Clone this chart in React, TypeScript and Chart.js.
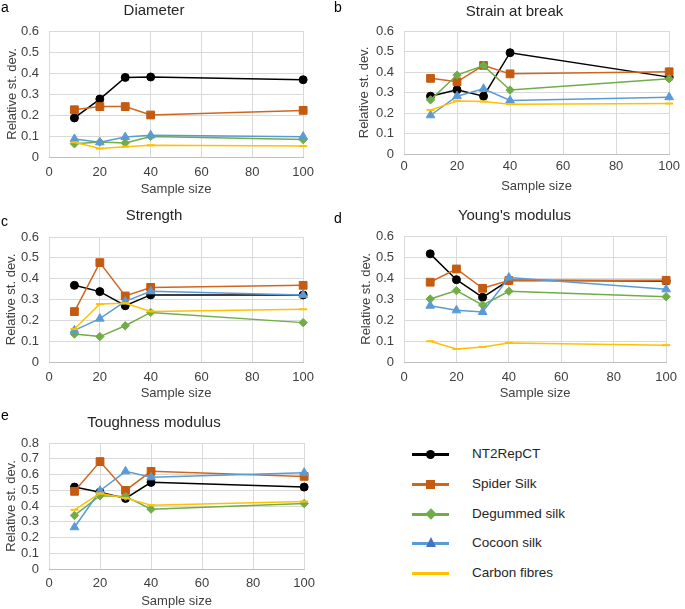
import React, { useEffect, useRef } from "react";
import { Chart, registerables } from "chart.js";

Chart.register(...registerables);

// ---------- data ----------
const sampleSizes = [10, 20, 30, 40, 100];
const seriesNames = ["NT2RepCT", "Spider Silk", "Degummed silk", "Cocoon silk", "Carbon fibres"];
const xTicks = [0, 20, 40, 60, 80, 100];

const diameterNT2 = [0.186, 0.276, 0.379, 0.381, 0.368];
const diameterSpider = [0.225, 0.24, 0.24, 0.2, 0.222];
const diameterDegummed = [0.063, 0.071, 0.067, 0.098, 0.083];
const diameterCocoon = [0.086, 0.07, 0.095, 0.103, 0.097];
const diameterCarbon = [0.07, 0.04, 0.049, 0.056, 0.052];

const strainNT2 = [0.282, 0.313, 0.282, 0.494, 0.375];
const strainSpider = [0.369, 0.352, 0.432, 0.391, 0.401];
const strainDegummed = [0.264, 0.385, 0.431, 0.312, 0.367];
const strainCocoon = [0.189, 0.282, 0.318, 0.261, 0.277];
const strainCarbon = [0.214, 0.258, 0.256, 0.243, 0.246];

const strengthNT2 = [0.368, 0.338, 0.27, 0.322, 0.322];
const strengthSpider = [0.242, 0.477, 0.317, 0.358, 0.368];
const strengthDegummed = [0.134, 0.122, 0.174, 0.238, 0.189];
const strengthCocoon = [0.152, 0.208, 0.291, 0.339, 0.322];
const strengthCarbon = [0.158, 0.278, 0.282, 0.243, 0.253];

const youngNT2 = [0.515, 0.392, 0.308, 0.389, 0.386];
const youngSpider = [0.38, 0.443, 0.351, 0.388, 0.389];
const youngDegummed = [0.3, 0.34, 0.271, 0.337, 0.311];
const youngCocoon = [0.268, 0.246, 0.238, 0.402, 0.346];
const youngCarbon = [0.099, 0.062, 0.072, 0.091, 0.08];

const toughNT2 = [0.52, 0.488, 0.448, 0.55, 0.52];
const toughSpider = [0.493, 0.682, 0.499, 0.62, 0.588];
const toughDegummed = [0.34, 0.465, 0.461, 0.38, 0.416];
const toughCocoon = [0.265, 0.497, 0.62, 0.582, 0.611];
const toughCarbon = [0.376, 0.48, 0.45, 0.405, 0.429];

// ---------- styles ----------
const FONT = "'Liberation Sans', Arial, sans-serif";
const TEXT = "#404040";
const GRID = "#D9D9D9";

const seriesStyles = [
  { color: "#000000", line: "#000000", pointStyle: "circle", radius: 4, pbw: 1 },
  { color: "#C55A11", line: "#D0661E", pointStyle: "rect", radius: 5.5, pbw: 1 },
  { color: "#70AD47", line: "#70AD47", pointStyle: "rectRot", radius: 4.2, pbw: 1 },
  { color: "#5B9BD5", line: "#5B9BD5", pointStyle: "triangle", radius: 5, pbw: 1 },
  { color: "#FFC000", line: "#FFC000", pointStyle: "line", radius: 4, pbw: 2 },
];

type PanelCfg = {
  title: string;
  letter: string;
  series: number[][];
  yMax: number;
  left: number;
  top: number;
  width: number;
  height: number;
  padRight: number;
  titlePadTop: number;
  titlePadBottom: number;
  xAxisHeight: number;
  xTickPad: number;
  xTitlePadBottom: number;
  yTitlePadTop: number;
  letterX: number;
  letterY: number;
};

const panels: PanelCfg[] = [
  {
    title: "Diameter", letter: "a",
    series: [diameterNT2, diameterSpider, diameterDegummed, diameterCocoon, diameterCarbon],
    yMax: 0.6, left: 0, top: 0, width: 322, height: 200, padRight: 14,
    titlePadTop: 2, titlePadBottom: 11, xAxisHeight: 43, xTickPad: 8, xTitlePadBottom: 3, yTitlePadTop: 5,
    letterX: 1, letterY: 0,
  },
  {
    title: "Strain at break", letter: "b",
    series: [strainNT2, strainSpider, strainDegummed, strainCocoon, strainCarbon],
    yMax: 0.6, left: 355, top: 0, width: 330, height: 200, padRight: 11,
    titlePadTop: 3, titlePadBottom: 10, xAxisHeight: 46, xTickPad: 5, xTitlePadBottom: 6, yTitlePadTop: 2,
    letterX: 334, letterY: 0,
  },
  {
    title: "Strength", letter: "c",
    series: [strengthNT2, strengthSpider, strengthDegummed, strengthCocoon, strengthCarbon],
    yMax: 0.6, left: 0, top: 205, width: 322, height: 200, padRight: 14,
    titlePadTop: 2, titlePadBottom: 12, xAxisHeight: 43, xTickPad: 8, xTitlePadBottom: 4, yTitlePadTop: 4,
    letterX: 1, letterY: 214,
  },
  {
    title: "Young's modulus", letter: "d",
    series: [youngNT2, youngSpider, youngDegummed, youngCocoon, youngCarbon],
    yMax: 0.6, left: 355, top: 205, width: 330, height: 200, padRight: 11,
    titlePadTop: 2, titlePadBottom: 11, xAxisHeight: 43, xTickPad: 8, xTitlePadBottom: 4, yTitlePadTop: 4,
    letterX: 334, letterY: 211,
  },
  {
    title: "Toughness modulus", letter: "e",
    series: [toughNT2, toughSpider, toughDegummed, toughCocoon, toughCarbon],
    yMax: 0.8, left: 0, top: 412, width: 322, height: 197, padRight: 14,
    titlePadTop: 2, titlePadBottom: 11, xAxisHeight: 40, xTickPad: 7, xTitlePadBottom: 0, yTitlePadTop: 4,
    letterX: 1, letterY: 408,
  },
];

function buildConfig(p: PanelCfg): any {
  const datasets = p.series.map((vals, i) => {
    const s = seriesStyles[i];
    return {
      label: seriesNames[i],
      data: sampleSizes.map((x, j) => ({ x, y: vals[j] })),
      borderColor: s.line,
      backgroundColor: s.color,
      borderWidth: 1.5,
      pointStyle: s.pointStyle,
      pointRadius: s.radius,
      pointBackgroundColor: s.color,
      pointBorderColor: s.color,
      pointBorderWidth: s.pbw,
      tension: 0,
      clip: false,
      order: 5 - i,
    };
  });
  const tickFont = { family: FONT, size: 13 };
  return {
    type: "line",
    data: { datasets },
    options: {
      animation: false,
      responsive: false,
      devicePixelRatio: 1,
      events: [],
      layout: { padding: { left: 0, right: p.padRight, top: 0, bottom: 0 } },
      plugins: {
        legend: { display: false },
        tooltip: { enabled: false },
        title: {
          display: true,
          text: p.title,
          color: "#262626",
          font: { family: FONT, size: 15, weight: "normal" },
          padding: { top: p.titlePadTop, bottom: p.titlePadBottom },
        },
      },
      scales: {
        x: {
          type: "linear",
          min: 0,
          max: 100,
          afterBuildTicks: (scale: any) => {
            scale.ticks = xTicks.map((v) => ({ value: v }));
          },
          afterFit: (scale: any) => {
            scale.height = p.xAxisHeight;
          },
          ticks: { font: tickFont, color: TEXT, padding: p.xTickPad, maxRotation: 0, autoSkip: false },
          grid: { color: GRID, drawTicks: false, lineWidth: 1 },
          border: { color: "#BFBFBF", width: 1 },
          title: {
            display: true,
            text: "Sample size",
            color: TEXT,
            font: tickFont,
            padding: { top: 0, bottom: p.xTitlePadBottom },
          },
        },
        y: {
          type: "linear",
          min: 0,
          max: p.yMax,
          afterFit: (scale: any) => {
            scale.width = 49;
          },
          ticks: {
            stepSize: 0.1,
            autoSkip: false,
            font: tickFont,
            color: TEXT,
            padding: 10,
            callback: (v: any) => String(Number(Number(v).toFixed(1))),
          },
          grid: { color: GRID, drawTicks: false, lineWidth: 1 },
          border: { display: false },
          title: {
            display: true,
            text: "Relative st. dev.",
            color: TEXT,
            font: tickFont,
            padding: { top: p.yTitlePadTop, bottom: 0 },
          },
        },
      },
    },
  };
}

function Panel({ p }: { p: PanelCfg }) {
  const ref = useRef<HTMLCanvasElement | null>(null);
  useEffect(() => {
    if (!ref.current) return;
    const chart = new Chart(ref.current, buildConfig(p));
    return () => chart.destroy();
  }, [p]);
  return (
    <>
      <canvas
        ref={ref}
        width={p.width}
        height={p.height}
        style={{ position: "absolute", left: p.left, top: p.top, width: p.width, height: p.height }}
      />
      <span
        style={{
          position: "absolute",
          left: p.letterX,
          top: p.letterY,
          fontFamily: FONT,
          fontSize: 14,
          lineHeight: "15px",
          color: "#000",
        }}
      >
        {p.letter}
      </span>
    </>
  );
}

function LegendMarker({ i }: { i: number }) {
  const s = seriesStyles[i];
  const base: React.CSSProperties = { position: "absolute", left: "50%", top: "50%" };
  if (s.pointStyle === "circle") {
    return <div style={{ ...base, width: 9, height: 9, marginLeft: -4.5, marginTop: -4.5, borderRadius: "50%", background: s.color }} />;
  }
  if (s.pointStyle === "rect") {
    return <div style={{ ...base, width: 9, height: 9, marginLeft: -4.5, marginTop: -4.5, background: s.color }} />;
  }
  if (s.pointStyle === "rectRot") {
    return <div style={{ ...base, width: 8, height: 8, marginLeft: -4, marginTop: -4, background: s.color, transform: "rotate(45deg)" }} />;
  }
  if (s.pointStyle === "triangle") {
    return (
      <div
        style={{
          ...base,
          width: 0,
          height: 0,
          marginLeft: -5,
          marginTop: -6,
          borderLeft: "5px solid transparent",
          borderRight: "5px solid transparent",
          borderBottom: "10px solid #4472C4",
        }}
      />
    );
  }
  return null;
}

function Legend() {
  const ys = [454, 484, 514, 543, 573];
  return (
    <>
      {seriesNames.map((name, i) => (
        <React.Fragment key={name}>
          <div style={{ position: "absolute", left: 412, top: ys[i] - 8, width: 37, height: 16 }}>
            <div
              style={{
                position: "absolute",
                left: 0,
                right: 0,
                top: 6.5,
                height: 3,
                background: seriesStyles[i].line,
              }}
            />
            <LegendMarker i={i} />
          </div>
          <span
            style={{
              position: "absolute",
              left: 472,
              top: ys[i] - 8,
              fontFamily: FONT,
              fontSize: 13.5,
              lineHeight: "16px",
              color: "#262626",
              whiteSpace: "nowrap",
            }}
          >
            {name}
          </span>
        </React.Fragment>
      ))}
    </>
  );
}

export default function App() {
  return (
    <div
      style={{
        position: "absolute",
        left: 0,
        top: 0,
        width: 685,
        height: 609,
        background: "#ffffff",
        overflow: "hidden",
      }}
    >
      {panels.map((p) => (
        <Panel key={p.letter} p={p} />
      ))}
      <Legend />
    </div>
  );
}
